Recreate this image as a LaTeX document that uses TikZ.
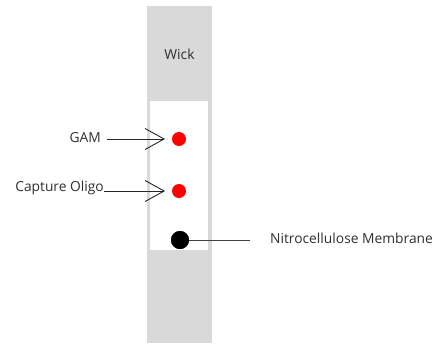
\documentclass[tikz,border=0pt]{standalone}
\usepackage{fontspec}
\setmainfont{Open Sans}
\usetikzlibrary{arrows.meta}
\definecolor{wickgray}{HTML}{D9D9D9}
\definecolor{txt}{HTML}{303030}
\definecolor{dotred}{HTML}{FF0000}
\begin{document}
\begin{tikzpicture}[x=1pt,y=-1pt,
  lbl/.style={font=\fontsize{13.8}{15}\selectfont, text=txt, inner sep=0pt},
  barb/.style={draw=black!85, line width=0.9pt, -{Straight Barb[length=19pt,width=21pt]}},
  plain/.style={draw=black!75, line width=0.9pt},
  reddot/.style={circle, fill=dotred, minimum size=14pt, inner sep=0pt},
  blackdot/.style={circle, fill=black, minimum size=18pt, inner sep=0pt}]
\useasboundingbox (0,0) rectangle (443,343);
\fill[white] (0,0) rectangle (443,343);
\fill[wickgray] (147,6) rectangle (212,343);
\fill[white] (150,101) rectangle (208,250);
\node[lbl] (wick) at (179.5,54) {Wick};
\node[reddot] (gam) at (179,139) {};
\node[reddot] (cap) at (179,191) {};
\node[blackdot] (nc) at (180,240) {};
\node[lbl, anchor=east] (gaml) at (101,138) {GAM};
\node[lbl, anchor=east] (capl) at (104,188) {Capture Oligo};
\node[lbl, anchor=west] (ncl) at (270,238) {Nitrocellulose Membrane};
\coordinate (gamtip) at (165,139);
\coordinate (captip) at (165,191);
\coordinate (ncend) at (250,240);
\draw[barb] (107,139) -- (gamtip);
\draw[barb] (capl.east |- captip) -- (captip);
\draw[plain] (nc.center) -- (ncend);
\node[blackdot] at (nc) {};
\end{tikzpicture}
\end{document}
